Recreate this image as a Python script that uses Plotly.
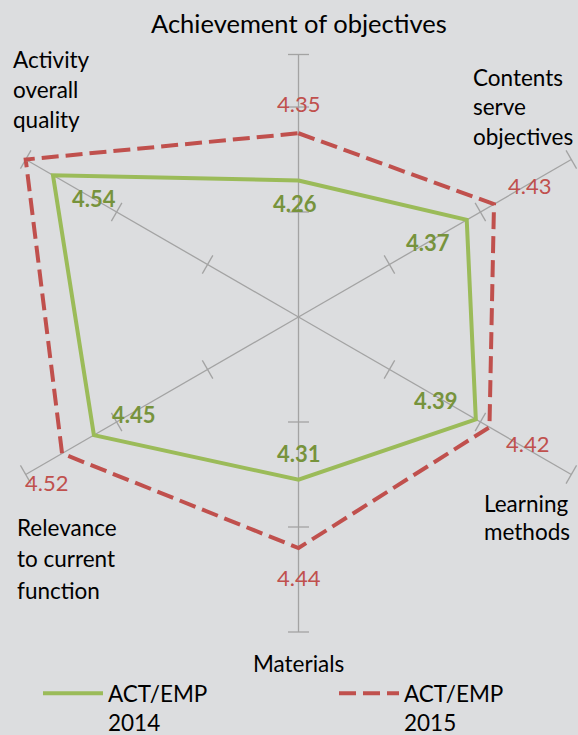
import numpy as np
import plotly.graph_objects as go

# ---------------- data ----------------
CATEGORIES = ["Achievement of objectives", "Contents serve objectives", "Learning methods",
              "Materials", "Relevance to current function", "Activity overall quality"]
CATEGORY_LINES = [["Achievement of objectives"], ["Contents", "serve", "objectives"],
                  ["Learning", "methods"], ["Materials"],
                  ["Relevance", "to current", "function"], ["Activity", "overall", "quality"]]
SERIES_NAMES = ["ACT/EMP<br>2014", "ACT/EMP<br>2015"]
VALUES_2014 = [4.26, 4.37, 4.39, 4.31, 4.45, 4.54]
VALUES_2015 = [4.35, 4.43, 4.42, 4.44, 4.52, 4.60]
LABELS_2014 = ["4.26", "4.37", "4.39", "4.31", "4.45", "4.54"]
LABELS_2015 = ["4.35", "4.43", "4.42", "4.44", "4.52", ""]
RADIAL_MIN = 4.0
RADIAL_MAX = 4.6
RADIAL_TICKS = [4.2, 4.4, 4.6]

# ---------------- style ----------------
W, H = 578, 735
PX_PER_UNIT = 525.0
CENTER_PX = (298.5, 317.0)
TOP_SPOKE_END = 4.5
BG = "#dcdddf"
GRID = "#a3a3a3"
GREEN = "#9BBB59"
GREEN_TXT = "#77933C"
RED = "#C0504D"
FONT = "Lato"
FS = 22.5
FS_TITLE = 25.5

n = len(CATEGORIES)
angles = np.deg2rad(90 - 360.0 / n * np.arange(n))


def polar_xy(values):
    v = np.asarray(values, dtype=float) - RADIAL_MIN
    return v * np.cos(angles), v * np.sin(angles)


fig = go.Figure()

# spokes
spoke_end = [TOP_SPOKE_END if i == 0 else RADIAL_MAX for i in range(n)]
ex, ey = polar_xy(spoke_end)
sx, sy = [], []
for i in range(n):
    sx += [0, ex[i], None]
    sy += [0, ey[i], None]
fig.add_trace(go.Scatter(x=sx, y=sy, mode="lines", line=dict(color=GRID, width=1.3),
                         hoverinfo="skip", showlegend=False))

# tick marks on spokes
tx, ty, tang = [], [], []
for i in range(n):
    vals = [t for t in RADIAL_TICKS if t < spoke_end[i] - 1e-9] + [spoke_end[i]]
    for t in vals:
        r = t - RADIAL_MIN
        tx.append(r * np.cos(angles[i]))
        ty.append(r * np.sin(angles[i]))
        tang.append(90 - np.rad2deg(angles[i]))
fig.add_trace(go.Scatter(x=tx, y=ty, mode="markers",
                         marker=dict(symbol="line-ew", size=15, angle=tang,
                                     line=dict(color=GRID, width=1.3)),
                         hoverinfo="skip", showlegend=False))

# series
for k, (name, vals, color, dash) in enumerate([(SERIES_NAMES[0], VALUES_2014, GREEN, "solid"),
                                               (SERIES_NAMES[1], VALUES_2015, RED, "17px,7px")]):
    x, y = polar_xy(vals)
    extra = dict(legendwidth=221) if k == 0 else {}
    fig.add_trace(go.Scatter(x=list(x) + [x[0]], y=list(y) + [y[0]], mode="lines",
                             name=name, line=dict(color=color, width=4, dash=dash),
                             customdata=list(vals) + [vals[0]],
                             hovertemplate="%{customdata:.2f}<extra></extra>", **extra))

annotations = []
# data labels (offsets in px: right, down)
OFF_2014 = [(-4, 23), (-39, 23), (-40, -19), (0, -26), (40, -21), (41, 23)]
OFF_2015 = [(0, -30), (35, -19), (38, 16), (0, 29), (-16, 29), (0, 0)]
for vals, labels, offs, color, bold in [(VALUES_2014, LABELS_2014, OFF_2014, GREEN_TXT, True),
                                        (VALUES_2015, LABELS_2015, OFF_2015, RED, False)]:
    x, y = polar_xy(vals)
    for i in range(n):
        if not labels[i]:
            continue
        annotations.append(dict(x=x[i], y=y[i], xref="x", yref="y", showarrow=False,
                                text=f"<b>{labels[i]}</b>" if bold else labels[i],
                                xshift=offs[i][0], yshift=-offs[i][1],
                                xanchor="center", yanchor="middle",
                                font=dict(family=FONT, size=22, color=color)))

# category labels anchored at spoke ends: (dx, dy of first line, line pitch, anchor)
CAT_OFF = [(0, 21, 0, "center"), (-100, -82.5, 29.5, "left"), (-89, 29, 28, "left"),
           (0, 31.5, 0, "center"), (-11, 52.5, 31.5, "left"), (-15, -100, 30, "left")]
cx, cy = polar_xy([RADIAL_MAX] * n)
for i in range(n):
    dx, dy, pitch, anchor = CAT_OFF[i]
    for j, line in enumerate(CATEGORY_LINES[i]):
        annotations.append(dict(x=cx[i], y=cy[i], xref="x", yref="y", showarrow=False,
                                text=line, xshift=dx, yshift=-(dy + j * pitch),
                                xanchor=anchor, yanchor="middle",
                                font=dict(family=FONT, size=FS_TITLE if i == 0 else FS,
                                          color="#000000")))

xr = [-CENTER_PX[0] / PX_PER_UNIT, (W - CENTER_PX[0]) / PX_PER_UNIT]
yr = [-(H - CENTER_PX[1]) / PX_PER_UNIT, CENTER_PX[1] / PX_PER_UNIT]

fig.update_layout(
    width=W, height=H,
    margin=dict(l=0, r=0, t=0, b=0, pad=0, autoexpand=False),
    paper_bgcolor=BG, plot_bgcolor=BG,
    xaxis=dict(range=xr, visible=False, fixedrange=True),
    yaxis=dict(range=yr, visible=False, fixedrange=True),
    annotations=annotations,
    font=dict(family=FONT, size=FS, color="#000000"),
    legend=dict(orientation="h", x=38 / W, xanchor="left", y=1 - 672 / H, yanchor="top",
                valign="top", itemwidth=60, bgcolor="rgba(0,0,0,0)",
                font=dict(family=FONT, size=FS, color="#000000")),
)

fig.write_html("out.html", config={"displayModeBar": False},
               post_script="document.body.style.margin='0px';")
